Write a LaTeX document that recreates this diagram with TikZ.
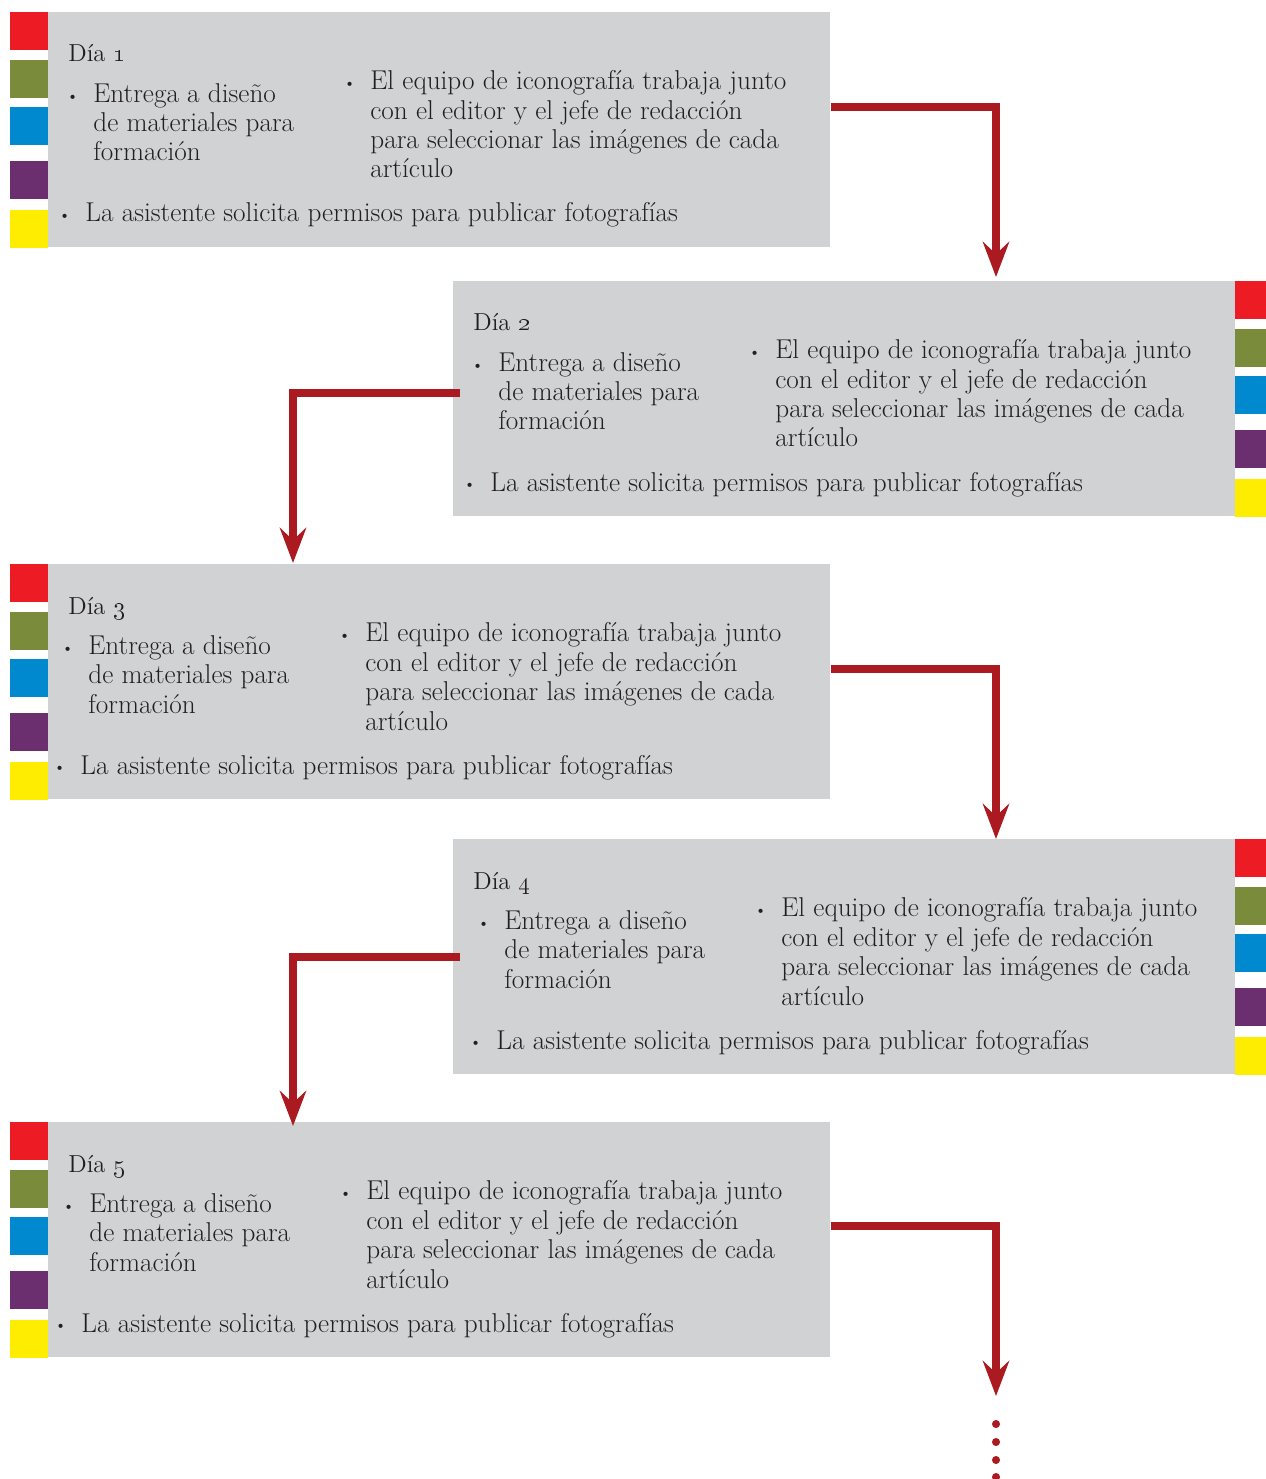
\documentclass[tikz,border=0pt]{standalone}
\usetikzlibrary{arrows.meta,calc}
\definecolor{cajagris}{HTML}{D1D2D4}
\definecolor{rojo}{HTML}{ED1C24}
\definecolor{oliva}{HTML}{7A8C3B}
\definecolor{azul}{HTML}{0089CF}
\definecolor{morado}{HTML}{6B2F6F}
\definecolor{amarillo}{HTML}{FFED00}
\definecolor{flecha}{HTML}{AB1A20}
\definecolor{texto}{HTML}{231F20}
\newcommand{\vineta}{\llap{\raisebox{1.3pt}{\fontsize{8}{8}\selectfont\textbullet}\hspace{8.5pt}}}

\begin{document}
\begin{tikzpicture}[x=0.02cm,y=-0.02cm]
\tikzstyle{every node}=[inner sep=0pt, text=texto]
\tikzstyle{caja}=[fill=cajagris, anchor=north west, minimum width=15.64cm, minimum height=4.7cm]
\tikzstyle{cuerpo}=[anchor=base west, align=left, font=\fontsize{15.5}{16.7}\selectfont]
\tikzstyle{dia}=[anchor=base west, font=\fontsize{14}{16}\selectfont]
\tikzstyle{flujo}=[draw=flecha, line width=4.5pt, -{Stealth[length=20pt,width=15pt,inset=7pt]}]
\useasboundingbox (0,0) rectangle (1266,1479);
\foreach \n/\x/\y/\s/\q in {1/48/12/0/10, 2/453/281/0/1235, 3/48/564/-5/10, 4/453/839/6/1235, 5/48/1122/-4/10} {
  \node[caja] (b\n) at (\x,\y) {};
  \foreach \c/\o in {rojo/0, oliva/48, azul/95, morado/149, amarillo/198}
    \fill[\c] (\q,\y+\o) rectangle ++(38,38);
  \node[dia] (d\n) at ($(b\n.north west)+(20,50)$) {Día \oldstylenums{\n}};
  \node[cuerpo] (e\n) at ($(b\n.north west)+(45+\s,149)$) {\vineta Entrega a diseño\\de materiales para\\formación};
  \node[cuerpo] (i\n) at ($(b\n.north west)+(322+\s,166)$) {\vineta El equipo de iconografía trabaja junto\\con el editor y el jefe de redacción\\para seleccionar las imágenes de cada\\artículo};
  \node[cuerpo] (p\n) at ($(b\n.north west)+(37+\s,210)$) {\vineta La asistente solicita permisos para publicar fotografías};
}
\coordinate (fin) at (996,1396);
\draw[flujo] ($(b1.north east)+(0,95)$) -| ($(b2.north west)+(543,-4)$);
\draw[flujo] ($(b2.north west)+(7,112)$) -| ($(b3.north west)+(245,-1)$);
\draw[flujo] ($(b3.north east)+(0,105)$) -| ($(b4.north west)+(543,0)$);
\draw[flujo] ($(b4.north west)+(7,118)$) -| ($(b5.north west)+(245,4)$);
\draw[flujo] ($(b5.north east)+(0,104)$) -| (fin);
\foreach \y in {1424,1442,1460,1477}
  \fill[flecha] (996,\y) circle (2.3pt);
\end{tikzpicture}
\end{document}
